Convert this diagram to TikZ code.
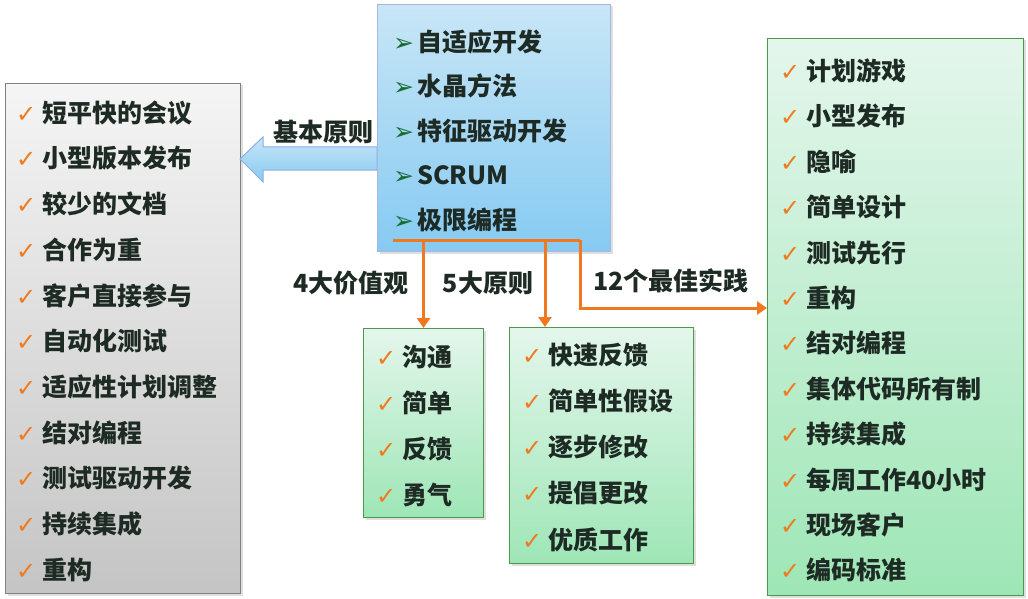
\documentclass[tikz,border=0pt]{standalone}
\usepackage{fontspec}
\setmainfont{Noto Sans CJK SC}
\newfontfamily\symfont{DejaVu Sans}
\usetikzlibrary{arrows.meta,shadows,calc}
\definecolor{tickorange}{HTML}{F07A1E}
\definecolor{linkorange}{HTML}{F0781E}
\definecolor{bulletgreen}{HTML}{186B32}
\definecolor{inkdark}{HTML}{1E2A24}
\definecolor{bluetop}{HTML}{C8E6F6}
\definecolor{bluebottom}{HTML}{86CAF2}
\definecolor{greentop}{HTML}{E4F6EC}
\definecolor{greenbottom}{HTML}{9EE6B6}
\def\tick{\makebox[26pt][l]{\symfont\fontsize{24}{24}\selectfont\color{tickorange}✓}}
\def\pointer{\makebox[24pt][l]{\symfont\fontsize{25}{25}\selectfont\color{bulletgreen}➢}}
\tikzset{
	box/.style={draw, rectangle, inner sep=0pt, anchor=north west, line width=1pt,
		drop shadow={opacity=0.25, shadow xshift=2pt, shadow yshift=-2pt}},
	graybox/.style={box, draw=black!50, top color=black!4, bottom color=black!23},
	greenbox/.style={box, draw=black!25!green!40!gray, top color=greentop, bottom color=greenbottom},
	bluebox/.style={box, draw=cyan!40!blue!35!white, top color=bluetop, bottom color=bluebottom},
	itemlist/.style={anchor=north west, inner sep=0pt, align=left, text=inkdark, font=\bfseries\fontsize{25}{45.5}\selectfont},
	tag/.style={inner sep=0pt, text=inkdark, font=\bfseries\fontsize{25}{25}\selectfont},
	link/.style={draw=linkorange, line width=3pt},
	tip/.style={link, -{Triangle[width=13pt,length=10pt]}}
}

\begin{document}
\begin{tikzpicture}[x=1pt, y=-1pt]
		%%%%% START %%%%%
		\useasboundingbox[fill=white] (0,0) rectangle (1028,599);
		
		\node[graybox, minimum width=235, minimum height=510] (principles) at (5,83) {};
		\node[greenbox, minimum width=256, minimum height=557] (practices) at (767,38) {};
		\node[greenbox, minimum width=120, minimum height=189] (values) at (363,328) {};
		\node[greenbox, minimum width=184, minimum height=236] (rules) at (509,327) {};
		
		% block arrow to the left box
		\coordinate (tip) at (240,159);
		\shade[draw=cyan!50!blue!45!white, line width=1pt, top color=bluetop, bottom color=bluebottom]
			(377,147) -- (263,147) -- (263,137) -- (tip) -- (263,182) -- (263,170) -- (377,170) -- cycle;
		
		\node[bluebox, minimum width=233, minimum height=247] (methods) at (377,4) {};
		
		\node[itemlist, font=\bfseries\fontsize{25}{44.5}\selectfont] (methodsList) at (393,29.5)
			{\pointer 自适应开发\\ \pointer 水晶方法\\ \pointer 特征驱动开发\\ \pointer SCRUM\\ \pointer 极限编程};
		\node[itemlist, font=\bfseries\fontsize{25}{45.7}\selectfont] (principlesList) at (16,100.5)
			{\tick 短平快的会议\\ \tick 小型版本发布\\ \tick 较少的文档\\ \tick 合作为重\\ \tick 客户直接参与\\ \tick 自动化测试\\
			\tick 适应性计划调整\\ \tick 结对编程\\ \tick 测试驱动开发\\ \tick 持续集成\\ \tick 重构};
		\node[itemlist, font=\bfseries\fontsize{25}{45.4}\selectfont] (practicesList) at (780,58.5)
			{\tick 计划游戏\\ \tick 小型发布\\ \tick 隐喻\\ \tick 简单设计\\ \tick 测试先行\\ \tick 重构\\
			\tick 结对编程\\ \tick 集体代码所有制\\ \tick 持续集成\\ \tick 每周工作40小时\\ \tick 现场客户\\ \tick 编码标准};
		\node[itemlist, font=\bfseries\fontsize{25}{46}\selectfont] (valuesList) at (376,344.5)
			{\tick 沟通\\ \tick 简单\\ \tick 反馈\\ \tick 勇气};
		\node[itemlist, font=\bfseries\fontsize{25}{46.25}\selectfont] (rulesList) at (522,342.5)
			{\tick 快速反馈\\ \tick 简单性假设\\ \tick 逐步修改\\ \tick 提倡更改\\ \tick 优质工作};
		
		% orange connectors
		\coordinate (split) at (393,240);
		\coordinate (drop) at (545,240);
		\coordinate (bend) at (580,240);
		\draw[link] (split) -- (bend);
		\draw[tip] (bend) -- (580,308) -- (practices.west |- 0,308);
		\draw[tip] (values.north |- split) -- (values.north);
		\draw[tip] (drop) -- (drop |- rules.north);
		
		\node[tag] (basicTag) at (323,132) {基本原则};
		\node[tag] (valuesTag) at (351,283) {4大价值观};
		\node[tag] (rulesTag) at (488,283) {5大原则};
		\node[tag] (practicesTag) at (671,281) {12个最佳实践};
		
		%%%%% END %%%%%
	\end{tikzpicture}
\end{document}
